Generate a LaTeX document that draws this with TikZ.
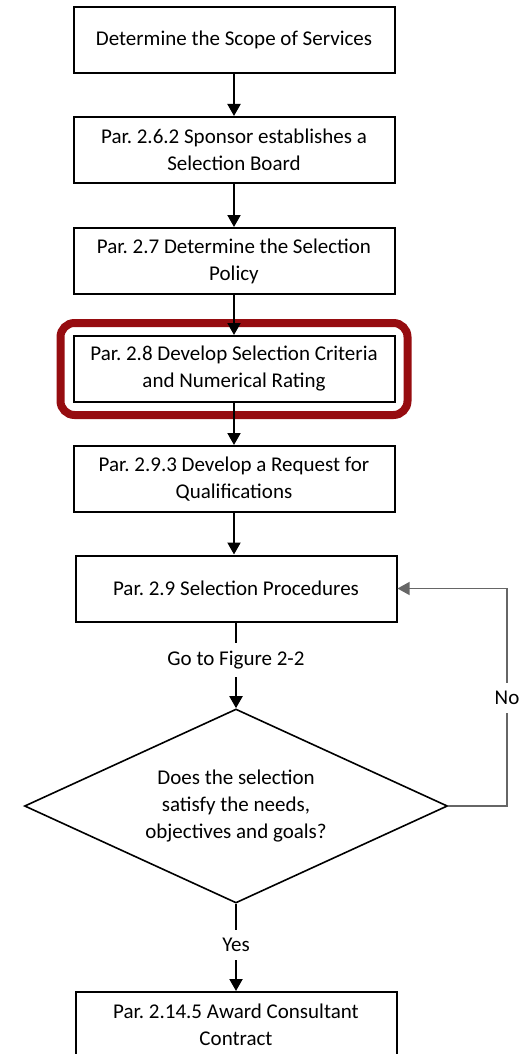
\documentclass[tikz,border=0pt]{standalone}
\usepackage{fontspec}
\setmainfont{Carlito}
\usetikzlibrary{shapes.geometric,arrows.meta,fit}
\definecolor{hlred}{RGB}{150,12,16}
\frenchspacing

\begin{document}
\begin{tikzpicture}
  [x=0.5pt,y=-0.5pt,>={Triangle[width=6.5pt,length=6pt]},
   every node/.style={font=\fontsize{10.5}{13.5}\selectfont,align=center},
   box/.style={draw,line width=1pt,minimum width=160.5pt,minimum height=33pt,inner sep=2pt},
   ask/.style={draw,diamond,line width=0.8pt,aspect=2.2,minimum width=211.5pt,minimum height=97pt,inner sep=0pt},
   lbl/.style={inner sep=4pt},
   hl/.style={draw=hlred,line width=4pt,rounded corners=7pt,inner sep=6pt}]
  \useasboundingbox (0,0) rectangle (522,1054);
  \clip (0,0) rectangle (522,1054);
  \node[box] (1) at (234,40) {Determine the Scope of Services};
  \node[box] (2) at (234,150) {Par. 2.6.2 Sponsor establishes a\\Selection Board};
  \node[box] (3) at (234,261) {Par. 2.7 Determine the Selection\\Policy};
  \node[box] (4) at (234,369) {Par. 2.8 Develop Selection Criteria\\and Numerical Rating};
  \node[box] (5) at (234,479) {Par. 2.9.3 Develop a Request for\\Qualifications};
  \node[box] (6) at (236,588.5) {Par. 2.9 Selection Procedures};
  \node[lbl] (go) at (236,660) {Go to Figure 2-2};
  \node[ask] (d) at (236,806) {Does the selection\\satisfy the needs,\\objectives and goals?};
  \node[lbl] (yes) at (236,945) {Yes};
  \node[lbl] (no) at (507,698) {No};
  \node[box] (7) at (236,1025) {Par. 2.14.5 Award Consultant\\Contract};
  \node[hl,fit=(4)] (mark) {};

  \foreach \from/\to in {1/2,2/3,3/4,4/5,5/6,go/d,yes/7}
    \draw[line width=1pt,->] (\from.south) -- (\from.south |- \to.north);
  \foreach \from/\to in {6/go,d/yes}
    \draw[line width=1pt] (\from) -- (\to);

  \draw[gray!80!black,line width=0.6pt] (d.east) -| (no);
  \draw[gray!80!black,line width=0.6pt,->] (no) |- (6.east);
\end{tikzpicture}
\end{document}
